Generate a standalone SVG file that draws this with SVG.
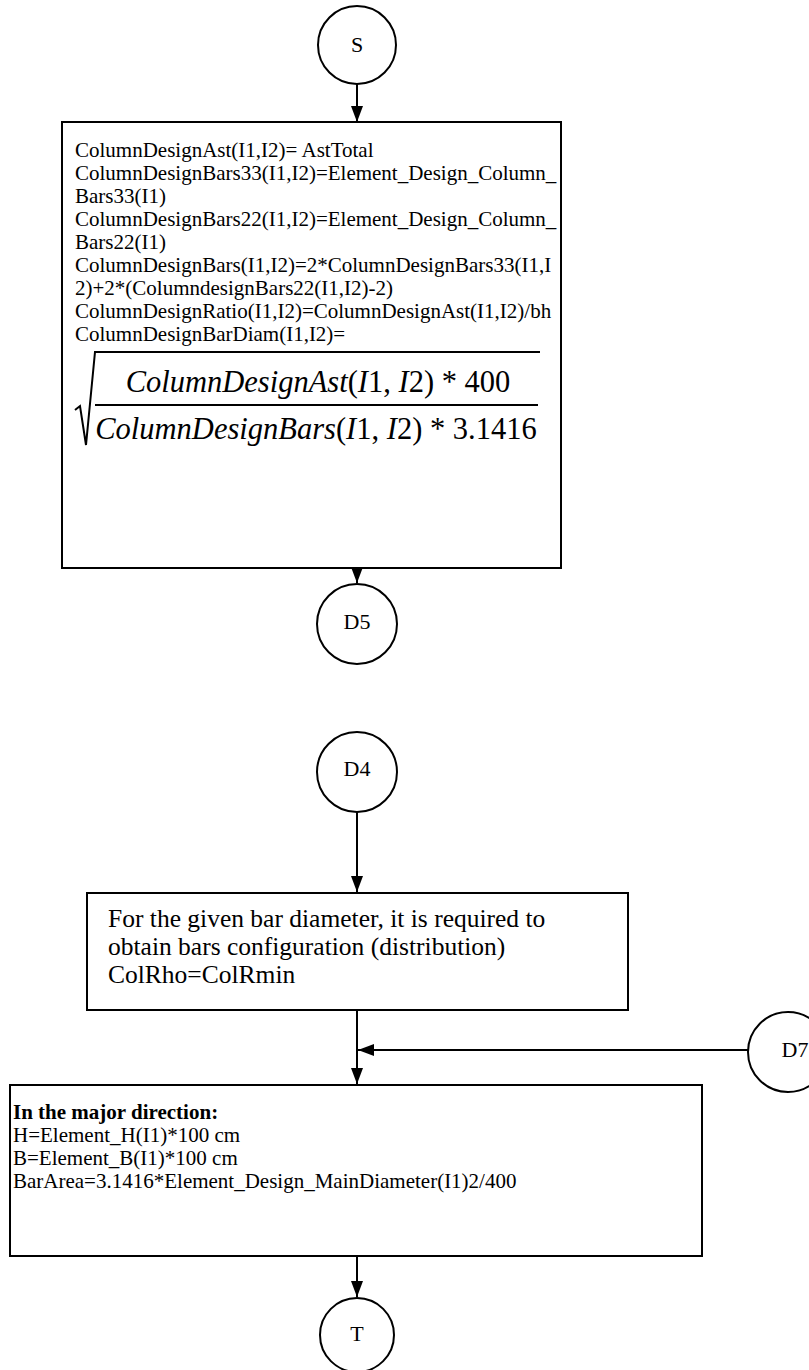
<svg xmlns="http://www.w3.org/2000/svg" width="809" height="1370" viewBox="0 0 809 1370">
<style>
.t{font-family:"Liberation Serif","Times New Roman",serif;font-size:21px;fill:#000}
.t2{font-family:"Liberation Serif","Times New Roman",serif;font-size:25.5px;fill:#000}
.c{font-family:"Liberation Serif","Times New Roman",serif;font-size:22px;fill:#000}
.b{font-weight:bold}
.m{font-family:"Liberation Serif","Times New Roman",serif;font-size:30.5px;fill:#000}
.i{font-style:italic}
.shape{fill:#fff;stroke:#000;stroke-width:2}
.ln{fill:none;stroke:#000;stroke-width:2}
</style>
<defs>
<marker id="ah" viewBox="0 0 16 12" refX="16" refY="6" markerWidth="16" markerHeight="12" markerUnits="userSpaceOnUse" orient="auto">
<path d="M0,0 L16,6 L0,12 Z" fill="#000"/>
</marker>
</defs>
<rect width="809" height="1370" fill="#fff"/>
<g id="connectors">
<line class="ln" x1="357" y1="84" x2="357" y2="122" marker-end="url(#ah)"/>
<line class="ln" x1="357" y1="568" x2="357" y2="583" marker-end="url(#ah)"/>
<line class="ln" x1="357" y1="812" x2="357" y2="892" marker-end="url(#ah)"/>
<line class="ln" x1="357" y1="1010" x2="357" y2="1084" marker-end="url(#ah)"/>
<line class="ln" x1="748" y1="1050" x2="358" y2="1050" marker-end="url(#ah)"/>
<line class="ln" x1="357" y1="1256" x2="357" y2="1297" marker-end="url(#ah)"/>
</g>
<g id="S">
<circle class="shape" cx="357" cy="45" r="39"/>
<text class="c" x="357" y="52" text-anchor="middle">S</text>
</g>
<g id="box1">
<rect class="shape" x="62" y="122" width="499" height="446"/>
<text class="t" x="75" y="157">ColumnDesignAst(I1,I2)= AstTotal</text>
<text class="t" x="75" y="180">ColumnDesignBars33(I1,I2)=Element_Design_Column_</text>
<text class="t" x="75" y="203">Bars33(I1)</text>
<text class="t" x="75" y="226">ColumnDesignBars22(I1,I2)=Element_Design_Column_</text>
<text class="t" x="75" y="249">Bars22(I1)</text>
<text class="t" x="75" y="272">ColumnDesignBars(I1,I2)=2*ColumnDesignBars33(I1,I</text>
<text class="t" x="75" y="295">2)+2*(ColumndesignBars22(I1,I2)-2)</text>
<text class="t" x="75" y="318">ColumnDesignRatio(I1,I2)=ColumnDesignAst(I1,I2)/bh</text>
<text class="t" x="75" y="341">ColumnDesignBarDiam(I1,I2)=</text>
<path class="ln" d="M75,410 L80,406 L86,445 L95,352 L540,352"/>
<line class="ln" x1="95" y1="405" x2="538" y2="405"/>
<text class="m" x="318" y="392" text-anchor="middle"><tspan class="i">ColumnDesignAst</tspan>(<tspan class="i">I</tspan>1, <tspan class="i">I</tspan>2) * 400</text>
<text class="m" x="316" y="439" text-anchor="middle"><tspan class="i">ColumnDesignBars</tspan>(<tspan class="i">I</tspan>1, <tspan class="i">I</tspan>2) * 3.1416</text>
</g>
<g id="D5">
<circle class="shape" cx="357" cy="624" r="40"/>
<text class="c" x="357" y="629" text-anchor="middle">D5</text>
</g>
<g id="D4">
<circle class="shape" cx="357" cy="772" r="40"/>
<text class="c" x="357" y="776" text-anchor="middle">D4</text>
</g>
<g id="box2">
<rect class="shape" x="87" y="893" width="541" height="117"/>
<text class="t2" x="108" y="927">For the given bar diameter, it is required to</text>
<text class="t2" x="108" y="955">obtain bars configuration (distribution)</text>
<text class="t2" x="108" y="983">ColRho=ColRmin</text>
</g>
<g id="D7">
<circle class="shape" cx="788" cy="1052" r="40"/>
<text class="c" x="795" y="1057" text-anchor="middle">D7</text>
</g>
<g id="box3">
<rect class="shape" x="10" y="1085" width="692" height="171"/>
<text class="t b" x="13" y="1119">In the major direction:</text>
<text class="t" x="13" y="1142">H=Element_H(I1)*100 cm</text>
<text class="t" x="13" y="1165">B=Element_B(I1)*100 cm</text>
<text class="t" x="13" y="1188">BarArea=3.1416*Element_Design_MainDiameter(I1)2/400</text>
</g>
<g id="T">
<circle class="shape" cx="357" cy="1335" r="37"/>
<text class="c" x="357" y="1341" text-anchor="middle">T</text>
</g>
</svg>
